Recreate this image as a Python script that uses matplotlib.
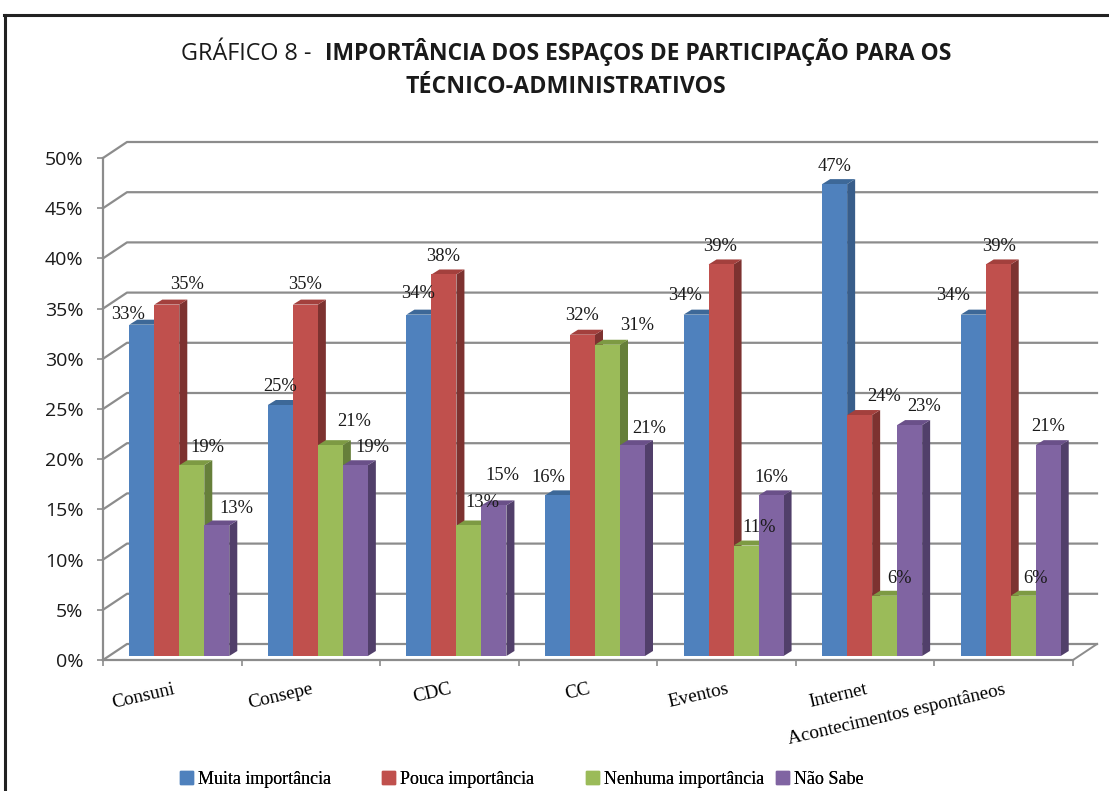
import matplotlib
matplotlib.use("Agg")
import matplotlib.pyplot as plt
from matplotlib.lines import Line2D
from matplotlib.patches import Patch
import numpy as np

categories = ["Consuni", "Consepe", "CDC", "CC", "Eventos", "Internet",
              "Acontecimentos espontâneos"]
series = ["Muita importância", "Pouca importância", "Nenhuma importância", "Não Sabe"]
muita = [33, 25, 34, 16, 34, 47, 34]
pouca = [35, 35, 38, 32, 39, 24, 39]
nenhuma = [19, 21, 13, 31, 11, 6, 6]
nao_sabe = [13, 19, 15, 21, 16, 23, 21]
yticks = [0, 5, 10, 15, 20, 25, 30, 35, 40, 45, 50]

# face, top, side colours per series
front_cols = ["#4F81BD", "#C0504D", "#9BBB59", "#8064A2"]
top_cols = ["#3D6898", "#A3403D", "#7D9A43", "#6A5089"]
side_cols = ["#385D8A", "#7D3230", "#667F3A", "#513F6A"]

# label nudges in pixels (dx, height above bar top), Excel moved them around
label_nudge = [
    [(-14, 10), (20, 20), (16, 18), (20, 17)],
    [(0, 18), (0, 20), (24, 24), (17, 18)],
    [(-1, 21), (-1, 18), (13, 23), (8, 30)],
    [(-9, 18), (-1, 19), (30, 19), (17, 17)],
    [(-11, 19), (-1, 18), (13, 18), (0, 18)],
    [(0, 18), (24, 19), (15, 17), (14, 19)],
    [(-20, 19), (1, 18), (12, 17), (0, 19)],
]

W, H = 1109, 791
fig = plt.figure(figsize=(W / 100, H / 100), dpi=100)
ax = fig.add_axes([103 / W, 1 - 660 / H, 970 / W, 502 / H])
ncat = len(categories)
ax.set_xlim(0, ncat)
ax.set_ylim(0, 50)

px_x = ncat / 970.0
px_y = 50 / 502.0
wall_dx, wall_dy = 24 * px_x, 16 * px_y
bar_dx0, bar_dy0 = 7 * px_x, 4 * px_y
bar_ddx, bar_ddy = 8 * px_x, 5 * px_y
bw = 25 * px_x

grid_col = "#8C8C8C"

# side wall + back wall gridlines
for v in yticks:
    ax.plot([0, wall_dx, ncat + wall_dx], [v, v + wall_dy, v + wall_dy],
            color=grid_col, lw=1.6, clip_on=False, zorder=1)
ax.plot([ncat, ncat + wall_dx], [0, wall_dy], color=grid_col, lw=1.4,
        clip_on=False, zorder=1)

data = [muita, pouca, nenhuma, nao_sabe]
z = 3
for i in range(ncat):
    for j in range(4):
        v = data[j][i]
        x0 = i + 0.5 + (j - 2) * bw + bar_dx0
        x1 = x0 + bw
        y1 = v + bar_dy0
        ax.fill([x1, x1 + bar_ddx, x1 + bar_ddx, x1],
                [bar_dy0, bar_dy0 + bar_ddy, y1 + bar_ddy, y1],
                color=side_cols[j], lw=0, zorder=z)
        ax.fill([x0, x1, x1 + bar_ddx, x0 + bar_ddx],
                [y1, y1, y1 + bar_ddy, y1 + bar_ddy],
                color=top_cols[j], lw=0, zorder=z)
        ax.bar(x0, v, width=bw, bottom=bar_dy0, align="edge",
               color=front_cols[j], lw=0, zorder=z + 0.5)
        dx, dy = label_nudge[i][j]
        ax.annotate(f"{v}%", xy=(x0 + bw / 2, y1), xytext=(dx, dy),
                    textcoords="offset pixels", ha="center", va="center",
                    fontfamily="Liberation Serif", fontsize=13.3, color="#1a1a1a",
                    zorder=200)
        z += 1

for s in ["top", "right"]:
    ax.spines[s].set_visible(False)
for s in ["left", "bottom"]:
    ax.spines[s].set_color(grid_col)
    ax.spines[s].set_linewidth(1.6)

ax.set_yticks(yticks)
ax.set_yticklabels([f"{v}%" for v in yticks])
ax.tick_params(axis="y", length=4, width=1.2, color=grid_col, pad=10,
               labelsize=14, labelfontfamily="Open Sans", labelcolor="#1a1a1a")

ax.set_xticks(np.arange(ncat + 1))
ax.set_xticklabels([])
ax.tick_params(axis="x", which="major", length=4.5, width=1.2, color=grid_col)
ax.set_xticks(np.arange(ncat) + 0.5, minor=True)
ax.set_xticklabels(categories, minor=True, rotation=13, ha="right",
                   rotation_mode="anchor", va="top",
                   fontfamily="Liberation Serif", fontsize=13.8)
ax.tick_params(axis="x", which="minor", length=0, pad=15)

# title
fig.text(311 / W, 1 - 60 / H, "GRÁFICO 8 -", ha="right", va="baseline",
         fontfamily="Open Sans", fontsize=16.8, color="#1a1a1a")
fig.text(325 / W, 1 - 60 / H, "IMPORTÂNCIA DOS ESPAÇOS DE PARTICIPAÇÃO PARA OS",
         ha="left", va="baseline", fontfamily="Open Sans", fontweight="bold",
         fontsize=16.5, color="#1a1a1a")
fig.text(566 / W, 1 - 93 / H, "TÉCNICO-ADMINISTRATIVOS", ha="center",
         va="baseline", fontfamily="Open Sans", fontweight="bold",
         fontsize=16.7, color="#1a1a1a")

# legend, one entry at a time to keep Excel's spacing
leg_x = [180, 382, 586, 776]
for j in range(4):
    lg = fig.legend(handles=[Patch(color=front_cols[j], label=series[j])],
                    loc="center left", bbox_to_anchor=(leg_x[j] / W, 1 - 779 / H),
                    frameon=False, handlelength=0.72, handleheight=0.72,
                    handletextpad=0.25, borderpad=0, borderaxespad=0,
                    prop={"family": "Liberation Serif", "size": 13})
    fig.add_artist(lg)

# outer chart border (cropped on the right and bottom)
fig.add_artist(Line2D([4 / W, 1], [1 - 15 / H, 1 - 15 / H], color="#222222",
                      lw=2.2, transform=fig.transFigure))
fig.add_artist(Line2D([5 / W, 5 / W], [0, 1 - 15 / H], color="#222222",
                      lw=2.2, transform=fig.transFigure))

fig.savefig("out.png", dpi=100)
